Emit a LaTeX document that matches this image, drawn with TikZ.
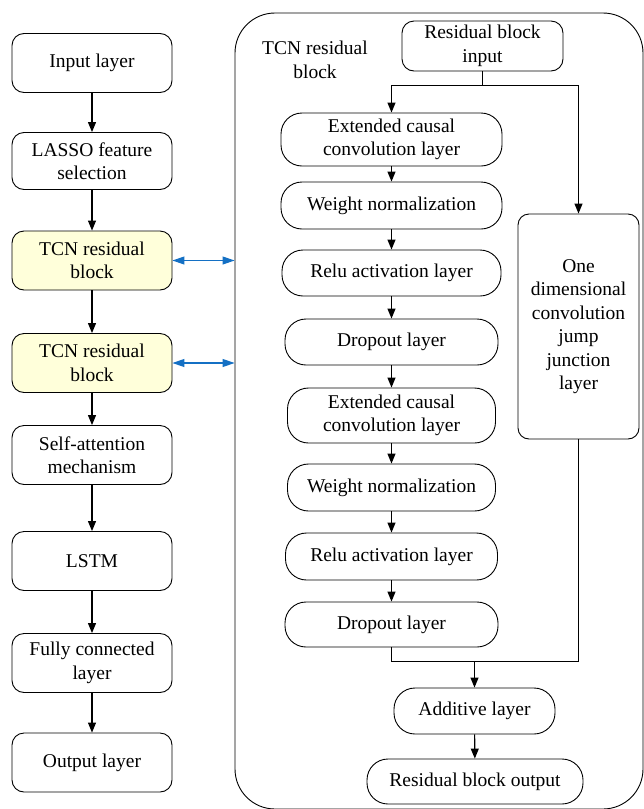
\documentclass[tikz,border=0pt]{standalone}
\usepackage{fontspec}
\setmainfont{Liberation Serif}
\newfontfamily\diagfont{Liberation Serif}
\usetikzlibrary{arrows.meta,positioning}
\definecolor{linkblue}{RGB}{20,112,196}
\definecolor{tcnfill}{RGB}{255,255,218}
\begin{document}
\begin{tikzpicture}[x=1pt,y=-1pt,
  every node/.style={font=\diagfont\fontsize{19.5pt}{23.5pt}\selectfont, inner sep=0pt, align=center},
  box/.style={draw, line width=0.9pt, rounded corners=12pt, minimum width=160pt, minimum height=59pt},
  pill/.style={draw, line width=0.9pt, rounded corners=21pt},
  flow/.style={line width=1.1pt, -{Triangle[length=10pt,width=8pt]}},
  wire/.style={line width=1pt},
  link/.style={linkblue, line width=1.1pt, {Triangle[length=12pt,width=8pt]}-{Triangle[length=12pt,width=8pt]}}
]
\useasboundingbox (0,0) rectangle (644,809);

% outer frame of the residual block
\node[draw, line width=0.9pt, rounded corners=40pt, minimum width=408pt, minimum height=796pt] (frame) at (439,411) {};
\node (framelabel) at (315,60) {TCN residual\\block};

% main pipeline
\node[box] (inp)  at (92,63)    {Input layer};
\node[box, minimum height=57pt] (lasso) at (92,161) {LASSO feature\\selection};
\node[box, fill=tcnfill] (tcn1) at (92,260.5) {TCN residual\\block};
\node[box, fill=tcnfill] (tcn2) at (92,363) {TCN residual\\block};
\node[box] (att)  at (92,455)   {Self-attention\\mechanism};
\node[box] (lstm) at (92,561)   {LSTM};
\node[box] (fc)   at (92,663)   {Fully connected\\layer};
\node[box] (out)  at (92,762.5) {Output layer};

\draw[flow] (inp) -- (lasso);
\draw[flow] (lasso) -- (tcn1);
\draw[flow] (tcn1) -- (tcn2);
\draw[flow] (tcn2) -- (att);
\draw[flow] (att) -- (lstm);
\draw[flow] (lstm) -- (fc);
\draw[flow] (fc) -- (out);

\draw[link] (tcn1.east) -- (tcn1.east -| frame.west);
\draw[link] (tcn2.east) -- (tcn2.east -| frame.west);

% inside the residual block
\node[draw, line width=0.9pt, rounded corners=12pt, minimum width=161pt, minimum height=50pt] (rin) at (482.5,46) {Residual block\\input};

\node[pill, minimum width=221pt, minimum height=53pt] (ext1) at (391.5,139.5) {Extended causal\\convolution layer};
\node[pill, minimum width=221pt, minimum height=47pt] (wn1)  at (391.5,205.5) {Weight normalization};
\node[pill, minimum width=219pt, minimum height=46pt] (relu1) at (391.5,273) {Relu activation layer};
\node[pill, minimum width=213pt, minimum height=46pt] (drop1) at (391.5,342) {Dropout layer};
\node[pill, minimum width=208pt, minimum height=55pt] (ext2) at (391.5,415.5) {Extended causal\\convolution layer};
\node[pill, minimum width=208pt, minimum height=47pt] (wn2)  at (391.5,487.5) {Weight normalization};
\node[pill, minimum width=212pt, minimum height=47pt] (relu2) at (391.5,556.5) {Relu activation layer};
\node[pill, minimum width=213pt, minimum height=45pt] (drop2) at (391.5,624.5) {Dropout layer};

\node[draw, line width=0.9pt, rounded corners=11pt, minimum width=121pt, minimum height=225pt] (jump) at (578.5,326.5) {One\\dimensional\\convolution\\jump\\junction\\layer};

\node[pill, minimum width=161pt, minimum height=46pt] (add) at (474.5,711) {Additive layer};
\node[pill, minimum width=216pt, minimum height=45pt] (rout) at (475,781.5) {Residual block output};

% split of the block input
\coordinate (split) at (482.5,85);
\coordinate (splitL) at (391.5,85);
\coordinate (splitR) at (578.5,85);
\draw[wire] (rin.south) -- (split);
\draw[wire] (splitL) -- (splitR);
\draw[flow] (splitL) -- (ext1.north);
\draw[flow] (splitR) -- (jump.north);

\draw[flow] (ext1) -- (wn1);
\draw[flow] (wn1) -- (relu1);
\draw[flow] (relu1) -- (drop1);
\draw[flow] (drop1) -- (ext2);
\draw[flow] (ext2) -- (wn2);
\draw[flow] (wn2) -- (relu2);
\draw[flow] (relu2) -- (drop2);

% merge of both paths
\coordinate (mergeL) at (391.5,661);
\coordinate (mergeR) at (578.5,661);
\coordinate (merge) at (474.5,661);
\draw[wire] (drop2.south) -- (mergeL) -- (mergeR) -- (jump.south);
\draw[flow] (merge) -- (add.north);
\draw[flow] (add) -- (rout);
\end{tikzpicture}
\end{document}
